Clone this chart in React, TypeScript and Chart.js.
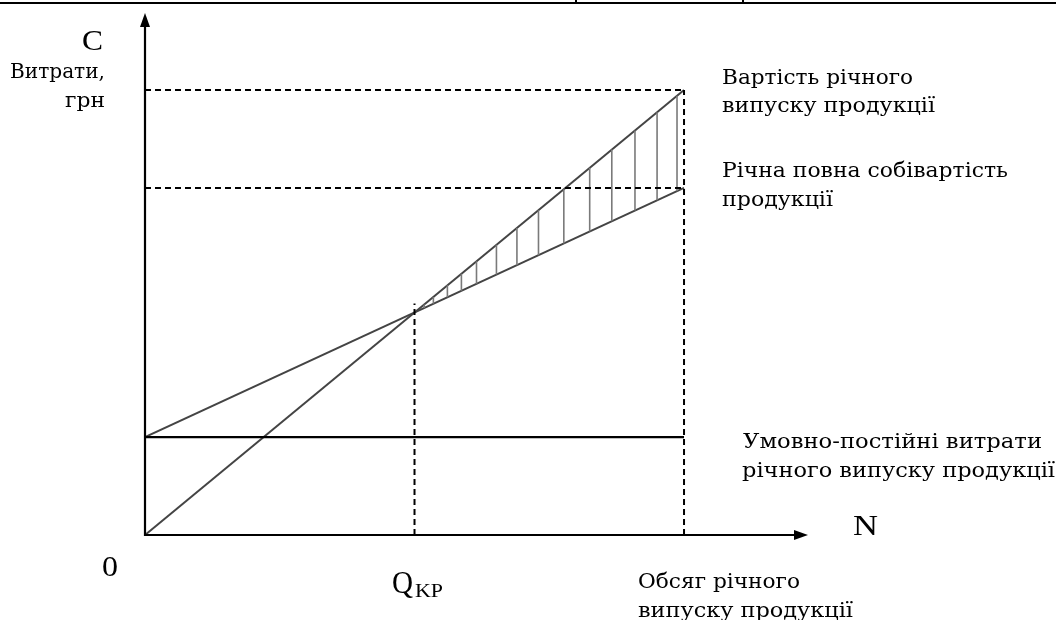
import React, { useEffect, useRef } from "react";
import { Chart, registerables } from "chart.js";

Chart.register(...registerables);

// Volume of output N (0 .. annual volume = 100)
const volume = [0, 100];
// Annual revenue line C = p * N
const revenueValues = [0, 100];
// Full annual cost = fixed + variable
const totalCostValues = [22, 78];
// Fixed (conditionally constant) costs
const fixedCostValues = [22, 22];
// Break-even volume Q_KP and top of its guide
const breakEvenQ = 50;
const breakEvenGuideTop = 52;
// Hatching positions between revenue and cost lines (profit zone)
const hatchX = [51.8, 53.5, 56.1, 58.7, 61.5, 65.2, 69, 73, 77.7, 82.5, 86.6, 90.9, 95, 98.7];
const xAxisMax = 123;
const yAxisMax = 117.3;

const lerp = (xs: number[], ys: number[], x: number) =>
  ys[0] + ((ys[1] - ys[0]) * (x - xs[0])) / (xs[1] - xs[0]);

const labelFont = "DejaVu Serif";
const bigFont = "Liberation Serif";

function fitText(
  ctx: CanvasRenderingContext2D,
  text: string,
  x: number,
  y: number,
  font: string,
  width: number,
  align: "left" | "right" = "left"
) {
  ctx.save();
  ctx.font = font;
  ctx.textBaseline = "alphabetic";
  ctx.textAlign = "left";
  const w = ctx.measureText(text).width;
  const s = width / w;
  const left = align === "left" ? x : x - width;
  ctx.translate(left, y);
  ctx.scale(s, 1);
  ctx.fillText(text, 0, 0);
  ctx.restore();
}

const decorPlugin = {
  id: "decor",
  afterDatasetsDraw(chart: any) {
    const ctx: CanvasRenderingContext2D = chart.ctx;
    const xs = chart.scales.x;
    const ys = chart.scales.y;
    const x0 = xs.getPixelForValue(0);
    const y0 = ys.getPixelForValue(0);
    const xEnd = xs.getPixelForValue(xAxisMax);
    const yTop = ys.getPixelForValue(yAxisMax);
    ctx.save();
    ctx.strokeStyle = "#000";
    ctx.fillStyle = "#000";
    ctx.lineWidth = 2.2;
    // axes
    ctx.beginPath();
    ctx.moveTo(x0, y0 + 1);
    ctx.lineTo(x0, yTop + 10);
    ctx.moveTo(x0 - 1, y0);
    ctx.lineTo(xEnd - 10, y0);
    ctx.stroke();
    // arrows
    ctx.beginPath();
    ctx.moveTo(x0, yTop);
    ctx.lineTo(x0 - 5, yTop + 14);
    ctx.lineTo(x0 + 5, yTop + 14);
    ctx.closePath();
    ctx.fill();
    ctx.beginPath();
    ctx.moveTo(xEnd, y0);
    ctx.lineTo(xEnd - 14, y0 - 5);
    ctx.lineTo(xEnd - 14, y0 + 5);
    ctx.closePath();
    ctx.fill();

    // top rule
    ctx.lineWidth = 2;
    ctx.beginPath();
    ctx.moveTo(0, 3);
    ctx.lineTo(1056, 3);
    ctx.moveTo(576, 0);
    ctx.lineTo(576, 3);
    ctx.moveTo(743, 0);
    ctx.lineTo(743, 3);
    ctx.stroke();

    // texts
    ctx.fillStyle = "#000";
    const lf = `20px "${labelFont}"`;
    fitText(ctx, "C", 82, 50, `29px "${bigFont}"`, 21);
    fitText(ctx, "Витрати,", 105, 78, lf, 95, "right");
    fitText(ctx, "грн", 105, 107, lf, 40, "right");

    fitText(ctx, "Вартість річного", 722, 84, lf, 191);
    fitText(ctx, "випуску продукції", 722, 112, lf, 213);
    fitText(ctx, "Річна повна собівартість", 722, 177, lf, 286);
    fitText(ctx, "продукції", 722, 206, lf, 111);

    fitText(ctx, "Умовно-постійні витрати", 743, 448, lf, 299);
    fitText(ctx, "річного випуску продукції", 742, 477, lf, 313);

    fitText(ctx, "N", 853, 535, `29px "${bigFont}"`, 25);
    fitText(ctx, "0", 102, 576, `30px "${bigFont}"`, 16);
    fitText(ctx, "Q", 392, 593, `31px "${bigFont}"`, 21);
    fitText(ctx, "KP", 415, 597, `19px "${bigFont}"`, 28);

    fitText(ctx, "Обсяг річного", 638, 588, lf, 162);
    fitText(ctx, "випуску продукції", 638, 617, lf, 215);
    ctx.restore();
  },
};

export default function App() {
  const ref = useRef<HTMLCanvasElement | null>(null);
  useEffect(() => {
    if (!ref.current) return;
    const pts = (ys: number[]) => volume.map((v, i) => ({ x: v, y: ys[i] }));
    const hatchData: any[] = [];
    hatchX.forEach((hx) => {
      hatchData.push({ x: hx, y: lerp(volume, totalCostValues, hx) });
      hatchData.push({ x: hx, y: lerp(volume, revenueValues, hx) });
      hatchData.push({ x: hx, y: null });
    });
    const annual = volume[1];
    const dashed = {
      borderColor: "#000",
      borderWidth: 2,
      borderDash: [6, 4],
      pointRadius: 0,
      fill: false,
    };
    const chart = new Chart(ref.current, {
      type: "line",
      data: {
        datasets: [
          { ...dashed, label: "top", data: [{ x: 0, y: revenueValues[1] }, { x: annual, y: revenueValues[1] }] },
          { ...dashed, label: "mid", data: [{ x: 0, y: totalCostValues[1] }, { x: annual, y: totalCostValues[1] }] },
          { ...dashed, label: "vAnnual", data: [{ x: annual, y: 0 }, { x: annual, y: revenueValues[1] }] },
          { ...dashed, label: "vQ", data: [{ x: breakEvenQ, y: 0 }, { x: breakEvenQ, y: breakEvenGuideTop }] },
          {
            label: "hatch",
            data: hatchData,
            borderColor: "#7a7a7a",
            borderWidth: 1.6,
            pointRadius: 0,
            spanGaps: false,
          },
          {
            label: "Умовно-постійні витрати",
            data: pts(fixedCostValues),
            borderColor: "#000",
            borderWidth: 2.2,
            pointRadius: 0,
          },
          {
            label: "Річна повна собівартість",
            data: pts(totalCostValues),
            borderColor: "#444",
            borderWidth: 2,
            pointRadius: 0,
          },
          {
            label: "Вартість річного випуску",
            data: pts(revenueValues),
            borderColor: "#444",
            borderWidth: 2,
            pointRadius: 0,
          },
        ],
      },
      options: {
        responsive: false,
        animation: false,
        layout: { padding: { left: 145, right: 248, top: 13, bottom: 85 } },
        plugins: { legend: { display: false }, tooltip: { enabled: false } },
        elements: { line: { tension: 0 } },
        scales: {
          x: { type: "linear", min: 0, max: xAxisMax, display: false },
          y: { type: "linear", min: 0, max: yAxisMax, display: false },
        },
      },
      plugins: [decorPlugin],
    } as any);
    return () => chart.destroy();
  }, []);
  return (
    <div style={{ position: "absolute", left: 0, top: 0, width: 1056, height: 620, background: "#fff" }}>
      <canvas ref={ref} width={1056} height={620} />
    </div>
  );
}
